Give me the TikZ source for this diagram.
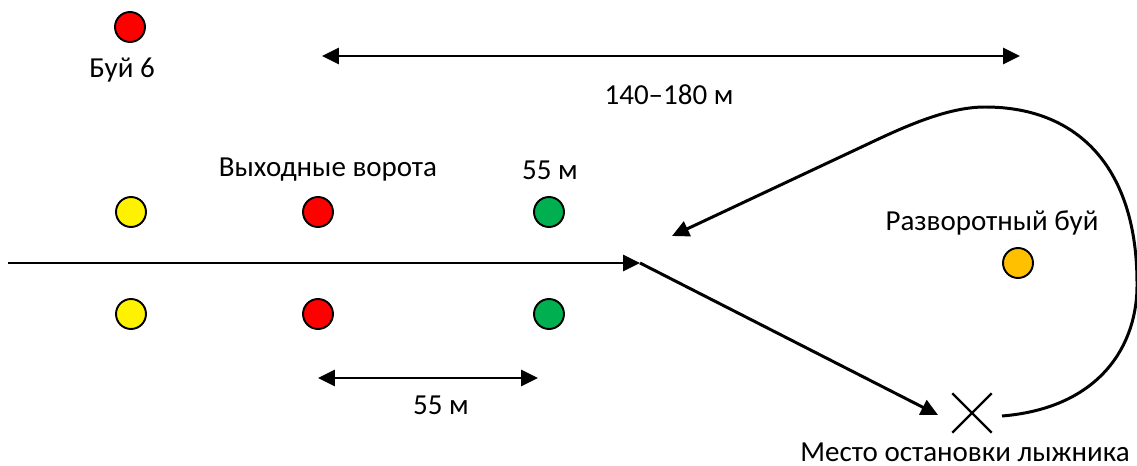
\documentclass[tikz,border=0pt]{standalone}
\usepackage{fontspec}
\setmainfont{Carlito}
\usetikzlibrary{positioning,arrows.meta,shapes.misc}

\definecolor{buoygreen}{RGB}{0,176,80}
\definecolor{buoyorange}{RGB}{255,192,0}

\tikzset{
  buoy/.style={circle, draw, line width=1.1pt, minimum size=0.6cm, inner sep=0pt},
  course/.style={line width=1.7pt},
  tip/.style={-{Triangle[length=0.34cm,width=0.32cm]}},
  tips/.style={{Triangle[length=0.34cm,width=0.32cm]}-{Triangle[length=0.34cm,width=0.32cm]}}
}

\begin{document}
\begin{tikzpicture}[x=0.02cm, y=-0.02cm, font=\fontsize{16.5}{19}\selectfont]
    \useasboundingbox (0,0) rectangle (1137,466);

    % buoys
    \node [buoy, fill=red] (b6) at (130,27) {};
    \node (b6lab) at (122,70) {Буй 6};
    \foreach \n/\x/\c in {y/131/yellow, r/318/red, g/549/buoygreen}{
      \node [buoy, fill=\c] (\n1) at (\x,212) {};
      \node [buoy, fill=\c] (\n2) at (\x,314) {};
    }
    \node [buoy, fill=buoyorange] (turn) at (1018,263) {};

    % labels
    \node (exitlab) at (328,170) {Выходные ворота};
    \node (glab) at (550,170) {55 м};
    \node (turnlab) at (992,223) {Разворотный буй};
    \node (stoplab) at (965,452) {Место остановки лыжника};

    % distances
    \coordinate (d1a) at (322,56);
    \coordinate (d1b) at (1020,56);
    \draw [course, tips] (d1a) -- (d1b);
    \node (d1lab) at (669,95) {140–180 м};
    \coordinate (d2a) at (318,378);
    \coordinate (d2b) at (538,378);
    \draw [course, tips] (d2a) -- (d2b);
    \node (d2lab) at (441,405) {55 м};

    % course
    \node [cross out, draw, line width=1.4pt, minimum width=0.74cm, minimum height=0.74cm, inner sep=0pt] (stop) at (972,413) {};
    \coordinate (start) at (8,263);
    \coordinate (turnpt) at (640,263);
    \coordinate (stopin) at (938,415);
    \coordinate (stopout) at (1002,416);
    \coordinate (back) at (672,236);
    \draw [course, tip] (start) -- (turnpt);
    \draw [course, tip] (turnpt) -- (stopin);
    \draw [course, tip] (stopout) .. controls (1100,408) and (1138,345) .. (1137,283)
      .. controls (1137,170) and (1080,107) .. (985,107)
      .. controls (950,107) and (910,124) .. (870,143) -- (back);
\end{tikzpicture}
\end{document}
